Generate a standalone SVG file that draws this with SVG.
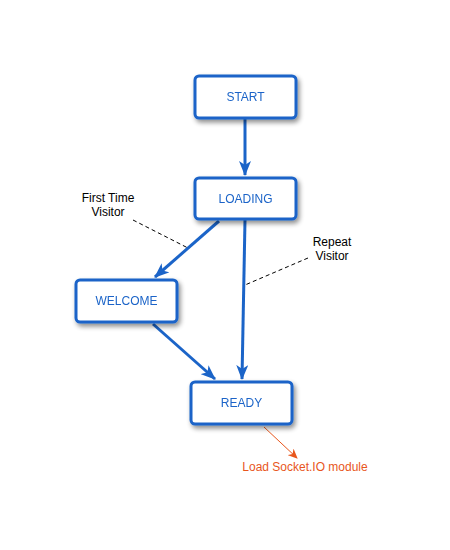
<svg xmlns="http://www.w3.org/2000/svg" width="450" height="550" viewBox="0 0 450 550">
<defs>
<filter id="sh" x="-20%" y="-20%" width="150%" height="160%">
<feGaussianBlur in="SourceAlpha" stdDeviation="2.5"/>
<feOffset dx="2" dy="3" result="b"/>
<feComponentTransfer><feFuncA type="linear" slope="0.45"/></feComponentTransfer>
<feMerge><feMergeNode/><feMergeNode in="SourceGraphic"/></feMerge>
</filter>
<marker id="ab" markerWidth="15" markerHeight="12" refX="14" refY="6" orient="auto" markerUnits="userSpaceOnUse" viewBox="0 0 15 12">
<path d="M0,0 L15,6 L0,12 L4,6 Z" fill="#1b64c8"/>
</marker>
<marker id="ao" markerWidth="10" markerHeight="9" refX="9" refY="4.5" orient="auto" markerUnits="userSpaceOnUse" viewBox="0 0 10 9">
<path d="M0,0 L10,4.5 L0,9 L3,4.5 Z" fill="#e8561c"/>
</marker>
</defs>
<style>
.box{fill:#fff;stroke:#1b64c8;stroke-width:3;}
.nt{font-family:"Liberation Sans",Arial,sans-serif;font-size:12px;fill:#1b64c8;text-anchor:middle;}
.lt{font-family:"Liberation Sans",Arial,sans-serif;font-size:12px;fill:#000;text-anchor:middle;}
.ot{font-family:"Liberation Sans",Arial,sans-serif;font-size:12px;fill:#e8561c;text-anchor:middle;}
.edge{stroke:#1b64c8;stroke-width:3;fill:none;marker-end:url(#ab);}
.dash{stroke:#000;stroke-width:1;stroke-dasharray:4,3;fill:none;}
.oedge{stroke:#e8561c;stroke-width:1;fill:none;marker-end:url(#ao);}
</style>
<rect width="450" height="550" fill="#fff"/>
<g id="connectors">
<line class="edge" x1="245" y1="118" x2="245" y2="175"/>
<line class="edge" x1="219" y1="221" x2="155" y2="277"/>
<line class="edge" x1="245" y1="220" x2="242" y2="379"/>
<line class="edge" x1="153" y1="324" x2="215" y2="379"/>
<line class="dash" x1="133" y1="220" x2="188" y2="248"/>
<line class="dash" x1="308" y1="258" x2="245" y2="285"/>
<line class="oedge" x1="264" y1="427" x2="297" y2="458"/>
</g>
<g id="start" filter="url(#sh)">
<rect class="box" x="195" y="76" width="101" height="42" rx="4"/>
<text class="nt" x="245.5" y="101">START</text>
</g>
<g id="loading" filter="url(#sh)">
<rect class="box" x="195" y="178" width="101" height="41" rx="4"/>
<text class="nt" x="245.5" y="202.5">LOADING</text>
</g>
<g id="welcome" filter="url(#sh)">
<rect class="box" x="76" y="280" width="101" height="42" rx="4"/>
<text class="nt" x="126.5" y="305">WELCOME</text>
</g>
<g id="ready" filter="url(#sh)">
<rect class="box" x="191" y="382" width="101" height="42" rx="4"/>
<text class="nt" x="241.5" y="407">READY</text>
</g>
<g id="labels">
<text class="lt" x="108" y="202">First Time</text>
<text class="lt" x="108" y="216">Visitor</text>
<text class="lt" x="332" y="246">Repeat</text>
<text class="lt" x="332" y="260">Visitor</text>
<text class="ot" x="305" y="471">Load Socket.IO module</text>
</g>
</svg>
